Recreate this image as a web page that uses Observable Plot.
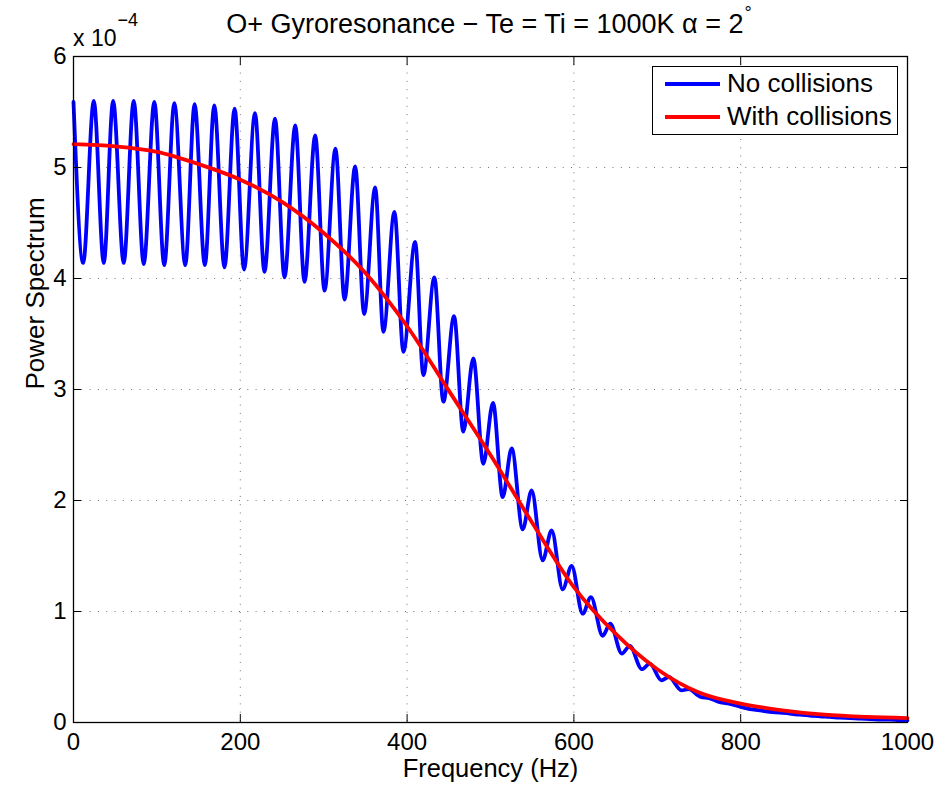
<!DOCTYPE html>
<html><head><meta charset="utf-8">
<script src="https://cdn.jsdelivr.net/npm/d3@7"></script>
<script src="https://cdn.jsdelivr.net/npm/@observablehq/plot@0.6"></script>
<style>
body{margin:0;background:#fff;}
#wrap{position:relative;width:949px;height:785px;font-family:"Liberation Sans",Arial,Helvetica,sans-serif;color:#000;overflow:hidden;}
#wrap svg{position:absolute;left:0;top:0;}
.ov{position:absolute;white-space:nowrap;line-height:1;}
#legend{position:absolute;left:652px;top:66px;width:246px;height:69px;box-sizing:border-box;border:1px solid #000;background:#fff;}
.lgline{position:absolute;left:665px;width:55px;height:4px;}
</style></head><body>
<div id="wrap"></div>
<script>
// ---- text ----
const titleText = "O+ Gyroresonance \u2212 Te = Ti = 1000K \u03b1 = 2";
const titleSup = "\u00b0";
const xLabel = "Frequency (Hz)";
const yLabel = "Power Spectrum";
const yMultiplier = "x 10";
const yExponent = "\u22124";
// ---- ticks ----
const xTicks = [0, 200, 400, 600, 800, 1000];
const yTicks = [0, 1, 2, 3, 4, 5, 6];
// ---- series ----
const seriesNames = ["No collisions", "With collisions"];
const seriesColors = ["#0000ff", "#ff0000"];
// No collisions: successive peaks and troughs (power in units of 1e-4)
const noCollFreq = [0, 11.6, 24.3, 36.3, 47.5, 60.2, 72.2, 84.2, 96.9, 108.8, 120.9, 134, 145.2, 157.5, 168.8, 181, 193.2, 204.5, 217.6, 229, 241.6, 253, 265.9, 277, 289.8, 301, 314.1, 325, 337.7, 348.5, 361.7, 371.6, 384.8, 395.6, 409.6, 419.5, 432.7, 443.5, 456.3, 467.4, 479.4, 491.4, 503, 514.6, 525.4, 538.6, 549.3, 562.5, 573.3, 586.5, 597.3, 610.5, 620.4, 634.5, 643.5, 657.5, 667, 681.5, 691, 705, 714, 729, 737.5, 752, 762, 776, 786, 800, 811, 823, 835, 847, 859, 871, 883, 895, 907, 919, 931, 943, 955, 967, 979, 991, 1000];
const noCollPower = [5.59, 4.14, 5.60, 4.14, 5.60, 4.14, 5.60, 4.13, 5.59, 4.12, 5.58, 4.12, 5.57, 4.12, 5.56, 4.10, 5.53, 4.08, 5.49, 4.06, 5.44, 4.01, 5.38, 3.97, 5.29, 3.89, 5.17, 3.81, 5.01, 3.68, 4.82, 3.52, 4.60, 3.34, 4.33, 3.13, 4.01, 2.89, 3.66, 2.62, 3.28, 2.33, 2.88, 2.03, 2.47, 1.74, 2.09, 1.46, 1.73, 1.20, 1.41, 0.98, 1.13, 0.78, 0.89, 0.62, 0.69, 0.48, 0.53, 0.38, 0.41, 0.29, 0.30, 0.23, 0.22, 0.18, 0.17, 0.14, 0.12, 0.11, 0.095, 0.09, 0.08, 0.07, 0.063, 0.055, 0.05, 0.043, 0.04, 0.034, 0.031, 0.027, 0.025, 0.021, 0.02];
// With collisions
const withCollFreq = [0, 50, 100, 150, 200, 250, 300, 350, 400, 450, 500, 550, 600, 650, 700, 750, 800, 850, 900, 950, 1000];
const withCollPower = [5.21, 5.19, 5.14, 5.03, 4.89, 4.69, 4.41, 4.05, 3.57, 2.99, 2.41, 1.80, 1.22, 0.80, 0.48, 0.27, 0.17, 0.11, 0.07, 0.05, 0.04];

const blue = noCollFreq.map((f, i) => ({f, p: noCollPower[i]}));
const red = withCollFreq.map((f, i) => ({f, p: withCollPower[i]}));

const gridStyle = {stroke: "#000", strokeOpacity: 0.55, strokeWidth: 1, strokeDasharray: "1,7.3"};
const fmt = d3.format("d");

const chart = Plot.plot({
  width: 949, height: 785,
  marginLeft: 73, marginRight: 42, marginTop: 56, marginBottom: 63,
  style: {fontFamily: '"Liberation Sans", Arial, Helvetica, sans-serif', fontSize: "24px", background: "transparent", color: "#000", overflow: "visible"},
  x: {domain: [0, 1000]},
  y: {domain: [0, 6]},
  marks: [
    Plot.gridX(xTicks, gridStyle),
    Plot.gridY(yTicks, gridStyle),
    Plot.line(blue, {x: "f", y: "p", stroke: seriesColors[0], strokeWidth: 3.8, curve: "monotone-x"}),
    Plot.line(red, {x: "f", y: "p", stroke: seriesColors[1], strokeWidth: 3.8, curve: "monotone-x"}),
    Plot.axisX(xTicks, {anchor: "bottom", tickSize: -8, tickPadding: 18, tickFormat: fmt, label: null}),
    Plot.axisX(xTicks, {anchor: "top", tickSize: -8, tickFormat: () => "", label: null}),
    Plot.axisY(yTicks, {anchor: "left", tickSize: -8, tickPadding: 15, tickFormat: fmt, label: null}),
    Plot.axisY(yTicks, {anchor: "right", tickSize: -8, tickFormat: () => "", label: null}),
    Plot.frame({stroke: "#000", strokeWidth: 1.3}),
    Plot.text([xLabel], {frameAnchor: "bottom", dy: 54, fontSize: 25.5, text: d => d}),
    Plot.text([yLabel], {frameAnchor: "left", rotate: -90, dx: -38, fontSize: 26, text: d => d})
  ]
});

const wrap = document.getElementById("wrap");
wrap.appendChild(chart);

// title
const t = document.createElement("div");
t.className = "ov";
t.style.cssText = "left:489px;top:11px;transform:translateX(-50%);font-size:27px;";
t.innerHTML = titleText + '<span style="font-size:18px;position:relative;top:-14px;margin-left:1px">' + titleSup + '</span>';
wrap.appendChild(t);

// exponent label
const e = document.createElement("div");
e.className = "ov";
e.style.cssText = "left:73px;top:27px;font-size:23px;";
e.innerHTML = yMultiplier + '<span style="font-size:18px;position:relative;top:-20px;margin-left:1px">' + yExponent + '</span>';
wrap.appendChild(e);

// legend
const lg = document.createElement("div");
lg.id = "legend";
wrap.appendChild(lg);
const lineCenters = [84, 117];
const textTops = [70, 103];
seriesNames.forEach((name, i) => {
  const l = document.createElement("div");
  l.className = "lgline";
  l.style.top = (lineCenters[i] - 2) + "px";
  l.style.background = seriesColors[i];
  wrap.appendChild(l);
  const tx = document.createElement("div");
  tx.className = "ov";
  tx.style.cssText = `left:727px;top:${textTops[i]}px;font-size:26px;`;
  tx.textContent = name;
  wrap.appendChild(tx);
});
</script>
</body></html>
